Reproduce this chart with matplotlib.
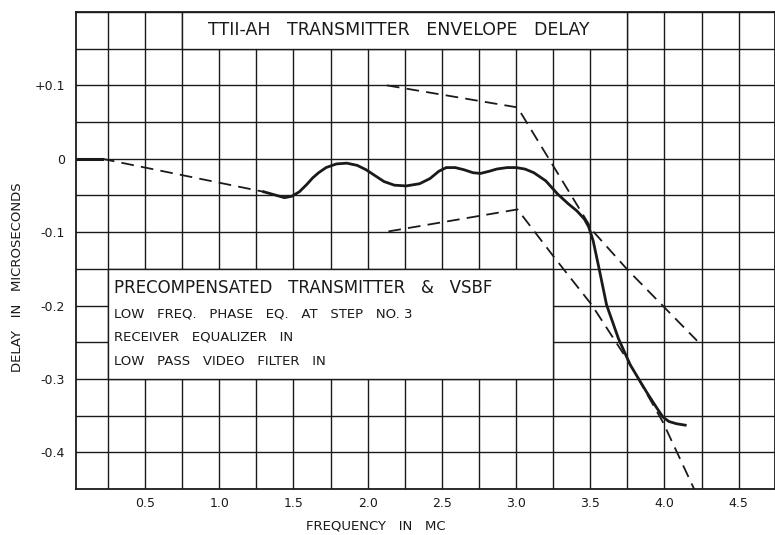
import numpy as np
import matplotlib
matplotlib.use("Agg")
import matplotlib.pyplot as plt
from matplotlib.patches import Rectangle

# measured envelope delay (frequency in MC, delay in microseconds)
lead_freq = [0.035, 0.21]
lead_delay = [0.0, 0.0]

freq = [1.30, 1.37, 1.44, 1.49, 1.54, 1.59, 1.63, 1.67, 1.72, 1.79, 1.86,
        1.93, 1.99, 2.05, 2.11, 2.18, 2.26, 2.35, 2.42, 2.48, 2.53, 2.59,
        2.65, 2.71, 2.76, 2.82, 2.87, 2.94, 3.00, 3.06, 3.12, 3.20, 3.28,
        3.35, 3.41, 3.46, 3.49, 3.52, 3.56, 3.61, 3.69, 3.77, 3.88, 3.95,
        3.99, 4.03, 4.08, 4.14]
delay = [-0.045, -0.049, -0.053, -0.051, -0.045, -0.035, -0.026, -0.019,
         -0.012, -0.007, -0.006, -0.009, -0.015, -0.023, -0.031, -0.036,
         -0.037, -0.034, -0.027, -0.017, -0.012, -0.012, -0.015, -0.019,
         -0.020, -0.017, -0.014, -0.012, -0.012, -0.014, -0.019, -0.030,
         -0.048, -0.061, -0.071, -0.082, -0.093, -0.112, -0.150, -0.199,
         -0.245, -0.281, -0.318, -0.340, -0.352, -0.358, -0.361, -0.363]

# dashed extension between the flat lead-in and the curve
link_freq = [0.21, 1.30]
link_delay = [0.0, -0.045]

# tolerance limits
upper_freq = [2.13, 3.01, 3.52, 3.75, 4.22]
upper_delay = [0.100, 0.070, -0.099, -0.151, -0.248]
lower_freq = [2.14, 3.01, 3.26, 3.51, 3.76, 3.99, 4.20]
lower_delay = [-0.099, -0.069, -0.135, -0.199, -0.277, -0.359, -0.450]

xtick_vals = [0.5, 1.0, 1.5, 2.0, 2.5, 3.0, 3.5, 4.0, 4.5]
xtick_labels = ["0.5", "1.0", "1.5", "2.0", "2.5", "3.0", "3.5", "4.0", "4.5"]
ytick_vals = [0.1, 0.0, -0.1, -0.2, -0.3, -0.4]
ytick_labels = ["+0.1", "0", "-0.1", "-0.2", "-0.3", "-0.4"]

title = "TTII-AH   TRANSMITTER   ENVELOPE   DELAY"
note_head = "PRECOMPENSATED   TRANSMITTER   &   VSBF"
note_lines = ["LOW   FREQ.   PHASE   EQ.   AT   STEP   NO. 3",
              "RECEIVER   EQUALIZER   IN",
              "LOW   PASS   VIDEO   FILTER   IN"]

ink = "#1a1a1a"
fig = plt.figure(figsize=(7.75, 5.35), dpi=100)
ax = fig.add_axes([76 / 775, 1 - 489 / 535, 1 - 76 / 775, (489 - 12) / 535])
ax.set_xlim(0.035, 4.745)
ax.set_ylim(-0.45, 0.2)

# graph paper grid
for gx in np.arange(0.25, 4.75, 0.25):
    ax.axvline(gx, color=ink, lw=1.0, zorder=1)
for gy in np.arange(-0.40, 0.2, 0.05):
    ax.axhline(gy, color=ink, lw=1.0, zorder=1)
for s in ax.spines.values():
    s.set_color(ink)
    s.set_linewidth(1.3)

# white label boxes on the grid
ax.add_patch(Rectangle((0.75, 0.15), 3.0, 0.05, facecolor="white",
                       edgecolor=ink, lw=1.0, zorder=2))
ax.add_patch(Rectangle((0.25, -0.30), 3.0, 0.15, facecolor="white",
                       edgecolor=ink, lw=1.0, zorder=2))

ax.text(2.21, 0.175, title, ha="center", va="center", fontsize=12.5,
        color=ink, zorder=3)
ax.text(0.29, -0.176, note_head, ha="left", va="center", fontsize=12,
        color=ink, zorder=3)
for i, line in enumerate(note_lines):
    ax.text(0.29, -0.211 - i * 0.0325, line, ha="left", va="center",
            fontsize=9.5, color=ink, zorder=3)

dash = (0, (7, 4))
ax.plot(lead_freq, lead_delay, color=ink, lw=2.2, zorder=4)
ax.plot(link_freq, link_delay, color=ink, lw=1.3, linestyle=dash, zorder=4)
ax.plot(freq, delay, color=ink, lw=2.0, zorder=4)
ax.plot(upper_freq, upper_delay, color=ink, lw=1.3, linestyle=dash, zorder=4)
ax.plot(lower_freq, lower_delay, color=ink, lw=1.3, linestyle=dash, zorder=4)

ax.set_xticks(xtick_vals)
ax.set_xticklabels(xtick_labels)
ax.set_yticks(ytick_vals)
ax.set_yticklabels(ytick_labels)
ax.tick_params(length=0, labelsize=9, colors=ink)
ax.tick_params(axis="x", pad=6)
ax.tick_params(axis="y", pad=8)

fig.text(376 / 775, 1 - 526 / 535, "FREQUENCY   IN   MC", ha="center",
         va="center", fontsize=9.5, color=ink)
fig.text(18 / 775, 1 - 277 / 535, "DELAY   IN   MICROSECONDS", ha="center",
         va="center", rotation=90, fontsize=9.5, color=ink)

fig.savefig("out.png", dpi=100)
